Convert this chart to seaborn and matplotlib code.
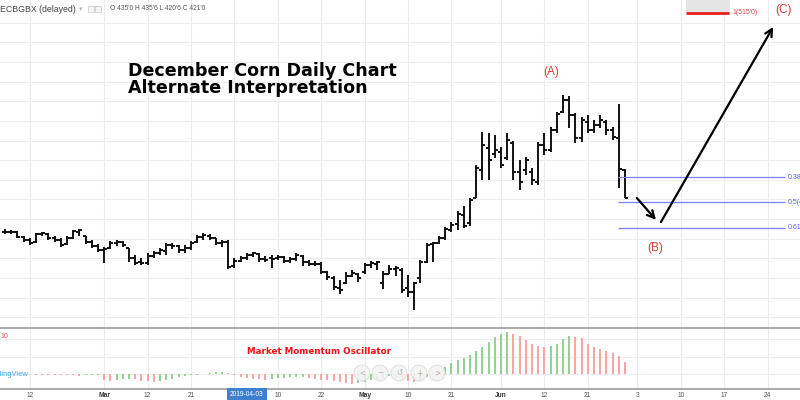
import numpy as np
import pandas as pd
import matplotlib
matplotlib.use("Agg")
import matplotlib.pyplot as plt
from matplotlib.transforms import blended_transform_factory, IdentityTransform
from matplotlib.patches import Rectangle, Circle
import seaborn as sns

# ------------------------------------------------------------------ data
symbol_text = "ECBGBX (delayed)"
title_lines = ["December Corn Daily Chart", "Alternate Interpretation"]
oscillator_name = "Market Momentum Oscillator"

opens = [403.5, 403.5, 403.5, 401.0, 399.25, 398.25, 402.5, 402.5, 400.5, 399.25,
         397.25, 400.5, 403.5, 401.5, 398.25, 396.25, 394.25, 395.25, 397.75, 398.25,
         395.25, 390.25, 388.25, 387.75, 391.25, 392.75, 393.75, 396.75, 396.25, 394.25,
         395.25, 398.25, 401.0, 401.5, 400.5, 397.75, 398.25, 386.0, 388.75, 390.25,
         391.75, 392.25, 389.75, 390.25, 390.25, 390.75, 388.75, 389.75, 391.25, 388.25,
         387.25, 387.25, 383.0, 380.0, 375.0, 377.5, 381.0, 382.0, 383.0, 386.5,
         387.25, 377.5, 382.25, 384.5, 384.0, 375.0, 372.75, 380.0, 388.25, 397.25,
         397.75, 400.5, 404.5, 407.5, 412.0, 408.0, 421.0, 435.0, 446.25, 443.0,
         444.25, 441.0, 448.75, 434.0, 435.0, 434.0, 428.75, 447.75, 445.25, 455.5,
         464.5, 470.75, 463.0, 451.25, 459.5, 455.5, 458.0, 459.5, 455.5, 451.25,
         435.0]
highs = [405.0, 404.5, 404.0, 401.5, 400.5, 403.0, 403.5, 403.0, 401.5, 400.5,
         401.5, 404.5, 405.0, 401.5, 399.25, 397.25, 395.75, 398.75, 399.25, 398.75,
         395.25, 391.75, 390.25, 392.75, 393.75, 395.25, 397.75, 397.75, 396.75, 396.75,
         398.75, 402.0, 403.0, 402.5, 400.5, 399.25, 399.25, 390.25, 391.25, 392.75,
         393.25, 392.75, 391.25, 391.75, 391.75, 391.25, 390.75, 392.75, 391.75, 389.25,
         388.75, 388.25, 383.5, 381.0, 379.0, 383.0, 384.0, 382.5, 387.75, 388.75,
         388.75, 383.5, 386.5, 386.0, 385.0, 381.5, 378.0, 389.25, 397.75, 398.25,
         401.5, 406.0, 408.5, 414.0, 416.75, 420.75, 437.5, 454.25, 453.75, 452.75,
         446.75, 453.75, 449.75, 440.0, 441.75, 436.0, 449.25, 453.75, 457.0, 464.5,
         473.25, 472.75, 464.0, 462.0, 463.0, 460.5, 463.0, 460.5, 457.0, 468.75,
         435.75]
lows = [402.5, 402.5, 400.5, 398.25, 396.75, 397.75, 401.5, 399.25, 398.25, 395.75,
        396.75, 399.75, 401.5, 397.25, 395.25, 393.25, 387.75, 394.75, 396.25, 395.75,
        388.25, 386.5, 386.5, 386.5, 390.25, 391.75, 391.75, 394.75, 392.75, 392.75,
        394.25, 397.75, 399.25, 399.25, 396.75, 395.75, 384.5, 385.0, 388.25, 389.25,
        390.75, 388.25, 388.25, 385.0, 389.25, 387.75, 387.75, 388.75, 386.0, 386.0,
        386.0, 382.0, 379.0, 374.0, 371.75, 377.0, 380.5, 378.0, 382.0, 385.0,
        384.0, 374.5, 382.0, 381.0, 372.25, 370.25, 363.75, 377.5, 387.5, 388.25,
        397.25, 399.25, 403.5, 404.5, 405.5, 406.5, 420.75, 430.0, 430.0, 441.25,
        436.0, 440.0, 430.0, 424.75, 432.5, 427.25, 427.25, 442.75, 444.25, 453.75,
        464.0, 456.5, 448.75, 449.25, 453.75, 453.75, 456.5, 452.75, 450.25, 425.75,
        420.75]
closes = [403.5, 403.5, 401.0, 399.25, 397.75, 402.5, 403.0, 400.5, 399.25, 396.75,
          400.5, 404.0, 404.5, 398.25, 396.25, 394.25, 394.75, 397.75, 398.25, 396.75,
          390.25, 387.75, 387.75, 391.25, 392.75, 394.25, 396.75, 396.25, 394.25, 395.25,
          397.75, 401.0, 402.0, 400.5, 397.75, 398.25, 385.5, 388.75, 390.25, 391.75,
          392.75, 389.75, 389.25, 389.75, 390.75, 388.75, 389.75, 391.75, 388.25, 387.25,
          387.0, 383.0, 380.5, 375.5, 374.0, 381.0, 382.5, 380.0, 386.5, 387.75,
          388.25, 382.0, 384.5, 385.0, 374.0, 372.75, 377.5, 388.25, 396.75, 397.75,
          400.5, 405.0, 407.0, 412.5, 406.5, 419.75, 436.0, 447.75, 440.0, 445.0,
          437.5, 450.25, 434.0, 428.75, 440.0, 430.0, 447.75, 445.25, 455.5, 463.5,
          470.75, 463.0, 451.25, 460.5, 455.5, 458.0, 460.5, 455.5, 451.75, 435.5,
          421.0]
momentum = [np.nan, np.nan, np.nan, np.nan, np.nan,
            -0.5, -0.7, -0.9, -1.1, -1.2, -1.3, -1.4, -1.5, -1.3, -1.1,
            -1.0, -6.0, -6.5, -6.0, -5.2, -4.8, -5.2, -6.8, -7.2, -8.0,
            -7.0, -6.0, -4.8, -3.2, -2.0, -1.2, -0.8, 0.3, 1.0, 1.8,
            2.2, 1.0, -1.0, -2.8, -4.0, -4.8, -5.2, -5.5, -5.0, -4.2,
            -3.8, -3.4, -3.1, -2.8, -4.0, -5.0, -5.8, -6.2, -7.0, -8.0,
            -9.0, -10.0, -9.2, -7.5, -6.2, -5.2, -4.0, -2.2, -4.0, -5.6,
            -7.0, -8.2, -7.0, -3.2, 1.0, 3.5, 7.0, 11.0, 13.7, 16.3,
            19.3, 22.7, 27.0, 31.7, 37.0, 40.3, 42.3, 40.0, 37.7, 33.7,
            30.3, 28.3, 27.5, 28.0, 30.3, 35.3, 38.3, 37.0, 36.0, 30.3,
            27.0, 25.0, 23.3, 21.0, 18.3, 11.7]

tick_bars = [4, 16, 23, 30, 37, 44, 51, 58, 65, 72, 80, 87, 94, 102, 109, 116, 123]
tick_labels = ["12", "Mar", "12", "21", "", "10", "22", "May", "10", "21",
               "Jun", "12", "21", "3", "10", "17", "24"]
month_labels = {"Mar", "May", "Jun"}
cursor_bar = 39
cursor_label = "2019-04-03"

fib_ratios = [0.382, 0.5, 0.618]
target_ratio = 1
target_price = 515.0
wave_labels = ["(A)", "(B)", "(C)"]


def fmt(p):
    whole = int(np.floor(p + 1e-9))
    eighths = int(round((p - whole) * 8))
    if eighths == 8:
        whole, eighths = whole + 1, 0
    return f"{whole}'{eighths}"


# ------------------------------------------------------------------ style / layout
sns.set_theme(style="white")
plt.rcParams["font.family"] = ["Liberation Sans", "DejaVu Sans"]

W, H = 800, 400
fig = plt.figure(figsize=(8, 4), dpi=100)
fig.patch.set_facecolor("white")


def fpos(x, y):
    return x / W, 1 - y / H


main_bot = 327.5
osc_top, osc_bot = 328.5, 388.5
ax = fig.add_axes([0, 1 - main_bot / H, 1, main_bot / H])
ax2 = fig.add_axes([0, 1 - osc_bot / H, 1, (osc_bot - osc_top) / H])

n = len(opens)
idx = np.arange(n)
x0_px, step_px = 5.0, 6.2
xlim = ((0 - x0_px) / step_px, (W - x0_px) / step_px)
px_per_cent = 1.963
top_price = 521.62
ylim = (top_price - main_bot / px_per_cent, top_price)

grid_col = "#ececec"
sep_col = "#a2a2a2"

# ------------------------------------------------------------------ price pane
bar_kw = dict(color="#111111", lw=1.4)
ax.vlines(idx, lows, highs, **bar_kw)
ax.hlines(opens, idx - 0.48, idx, **bar_kw)
ax.hlines(closes, idx, idx + 0.48, **bar_kw)

ax.set_xlim(*xlim)
ax.set_ylim(*ylim)
ax.set_yticks(np.arange(360, 520, 10))
ax.set_xticks(tick_bars)
ax.grid(True, color=grid_col, lw=0.8)
ax.set_axisbelow(True)
ax.tick_params(length=0, labelleft=False, labelbottom=False)
for s in ["top", "left", "right"]:
    ax.spines[s].set_visible(False)
ax.spines["bottom"].set_color(sep_col)
ax.spines["bottom"].set_linewidth(1.3)
ax.set_facecolor("white")

# fibonacci retracement of the swing low -> swing high
lo, hi = min(lows), max(highs)
for r in fib_ratios:
    lvl = hi - r * (hi - lo)
    ax.hlines(lvl, 98.9, 125.8, color="#7c7cff", lw=0.9)
    ax.text(126.3, lvl, f"{r:g}({fmt(lvl)})", color="#5f5fff", fontsize=5,
            va="center", ha="left", clip_on=False)

# target extension
ax.add_patch(Rectangle((109.8, target_price), 7.2, ylim[1] - target_price,
                       fc="#e4e4e4", ec="none", zorder=1))
ax.hlines(target_price, 109.8, 116.8, color="#e5221f", lw=2.0, zorder=3)
ax.text(117.3, target_price, f"{target_ratio}({fmt(target_price)})",
        color="#e84848", fontsize=5, va="center", ha="left")

# wave labels and projected path
wave_col = "#d63c36"
ax.text(88.1, 484.9, wave_labels[0], color=wave_col, fontsize=8.5, ha="center", va="center")
ax.text(104.8, 395.3, wave_labels[1], color=wave_col, fontsize=8.5, ha="center", va="center")
ax.text(125.5, 516.5, wave_labels[2], color=wave_col, fontsize=8.5, ha="center", va="center")
arrow_kw = dict(arrowstyle="->", lw=1.6, color="black", mutation_scale=13,
                shrinkA=0, shrinkB=0)
ax.annotate("", xy=(105.0, 409.6), xytext=(101.9, 420.8), arrowprops=arrow_kw)
ax.annotate("", xy=(123.9, 507.9), xytext=(105.8, 408.5), arrowprops=arrow_kw)

# titles
fig.text(*fpos(128, 71), title_lines[0], fontsize=12.6, fontweight="bold",
         family="DejaVu Sans", va="center", ha="left", color="#000000")
fig.text(*fpos(128, 88), title_lines[1], fontsize=12.6, fontweight="bold",
         family="DejaVu Sans", va="center", ha="left", color="#000000")

# header
fig.text(*fpos(0, 9), symbol_text, fontsize=6.3, color="#444444", va="center", ha="left")
fig.text(*fpos(79, 9), "\u25be", fontsize=5, color="#b0b0b0", va="center", ha="left",
         family="DejaVu Sans")
for bx in (88, 95):
    fig.add_artist(Rectangle((bx, H - 12), 6, 6, transform=IdentityTransform(),
                             fc="#f4f4f4", ec="#cfcfcf", lw=0.6))
fig.text(*fpos(110, 9),
         f"O {fmt(opens[-1])} H {fmt(highs[-1])} L {fmt(lows[-1])} C {fmt(closes[-1])}",
         fontsize=4.8, color="#555555", va="center", ha="left")

# ------------------------------------------------------------------ oscillator pane
osc = pd.DataFrame({"bar": idx, "value": momentum})
osc["direction"] = np.where(osc["value"].diff() > 0, "up", "down")
osc = osc.dropna(subset=["value"])
sns.barplot(data=osc, x="bar", y="value", hue="direction",
            palette={"up": "#93d293", "down": "#f7a6a6"}, native_scale=True,
            width=0.3, dodge=False, legend=False, errorbar=None, saturation=1,
            linewidth=0, ax=ax2)
for p in ax2.patches:
    p.set_antialiased(False)

ax2.set_xlim(*xlim)
ax2.set_ylim(-14.5, 45.5)
ax2.set_yticks([0, 17.5, 35])
ax2.set_xticks(tick_bars)
ax2.set_xticklabels(tick_labels)
ax2.grid(True, color=grid_col, lw=0.8)
ax2.set_axisbelow(True)
ax2.set_xlabel("")
ax2.set_ylabel("")
ax2.tick_params(axis="y", length=0, labelleft=False)
ax2.tick_params(axis="x", length=0, pad=2.2, labelsize=4.8, labelcolor="#555555")
for lbl in ax2.get_xticklabels():
    if lbl.get_text() in month_labels:
        lbl.set_fontweight("bold")
        lbl.set_color("#333333")
for s in ["top", "left", "right"]:
    ax2.spines[s].set_visible(False)
ax2.spines["bottom"].set_color(sep_col)
ax2.spines["bottom"].set_linewidth(1.3)
ax2.set_facecolor("white")

trans2 = blended_transform_factory(ax2.transData, ax2.transAxes)
ax2.text(cursor_bar, -0.092, cursor_label, transform=trans2, ha="center", va="center",
         fontsize=4.8, color="white",
         bbox=dict(boxstyle="square,pad=0.45", fc="#3f7fcf", ec="none"))

fig.text(*fpos(247, 352), oscillator_name, fontsize=6.3, fontweight="bold",
         family="DejaVu Sans", color="#ee1111", va="center", ha="left")
fig.text(*fpos(0, 337), "10", fontsize=5, color="#f05050", va="center", ha="left")
fig.text(*fpos(29, 374), "TradingView", fontsize=5.4, color="#45a6e0",
         va="center", ha="right")

# chart navigation buttons
for cx, sym in zip([362, 380, 399, 419, 437], ["<", "\u2212", "\u21ba", "+", ">"]):
    fig.add_artist(Circle((cx, H - 373), 8, transform=IdentityTransform(),
                          fc="#f3f3f3", ec="#d9d9d9", lw=0.7, alpha=0.85))
    fig.text(*fpos(cx, 373), sym, fontsize=5.5, color="#b5b5b5", ha="center",
             va="center", family="DejaVu Sans")

fig.savefig("out.png", dpi=100, facecolor="white")
